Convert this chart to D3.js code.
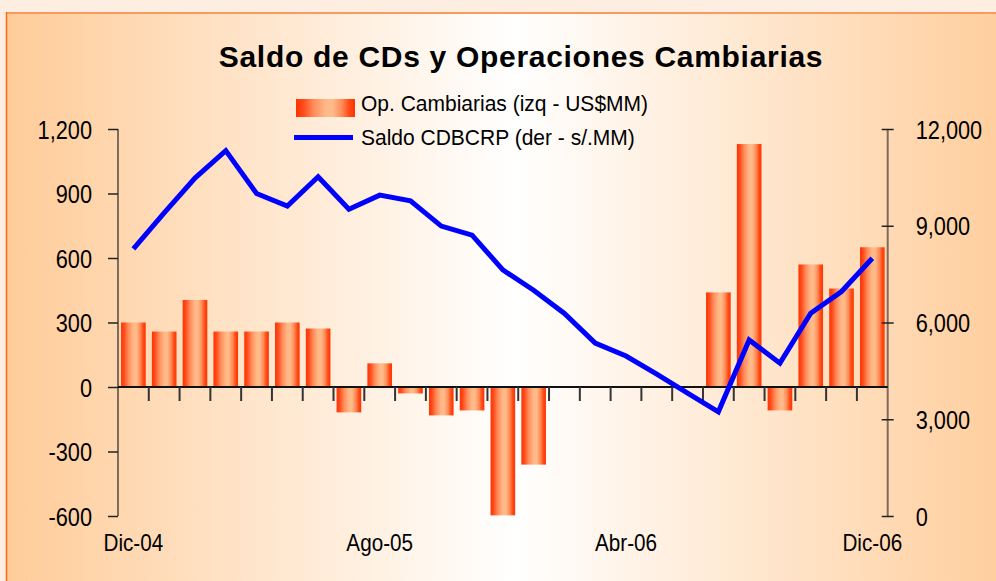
<!DOCTYPE html>
<html lang="es">
  <head>
    <meta charset="UTF-8" />
    <script src="https://d3js.org/d3.v7.min.js"></script>
    <style>
      body { margin: 0; background: #feeee2; }
      svg { display: block; }
      .lbl { font-family: "Liberation Sans", Arial, sans-serif; fill: #000; }
    </style>
    <title>Saldo de CDs y Operaciones Cambiarias</title>
  </head>
  <body>
    <div id="chart"></div>
    <script>
      // data
      var months = ["Dic-04", "Ene-05", "Feb-05", "Mar-05", "Abr-05", "May-05", "Jun-05",
        "Jul-05", "Ago-05", "Set-05", "Oct-05", "Nov-05", "Dic-05", "Ene-06", "Feb-06",
        "Mar-06", "Abr-06", "May-06", "Jun-06", "Jul-06", "Ago-06", "Set-06", "Oct-06",
        "Nov-06", "Dic-06"];
      // Op. Cambiarias (izq - US$MM)
      var opCambiarias = [300, 258, 405, 258, 258, 300, 272, -118, 110, -30, -132, -109,
        -597, -361, 0, 0, 0, 0, 0, 440, 1130, -109, 570, 458, 650];
      // Saldo CDBCRP (der - s/.MM)
      var saldoCD = [8280, 9400, 10480, 11330, 10000, 9610, 10520, 9510, 9950, 9770, 8990,
        8710, 7630, 7000, 6280, 5360, 4960, 4400, 3810, 3230, 5460, 4740, 6290, 6960, 7990];
      var leftTicks = [-600, -300, 0, 300, 600, 900, 1200];
      var rightTicks = [0, 3000, 6000, 9000, 12000];
      var xLabels = ["Dic-04", "Ago-05", "Abr-06", "Dic-06"];

      var W = 996, H = 581;
      var plot = { left: 118, right: 887.7, top: 129, bottom: 516 };
      var SX = 0.87; // the original font is a bit condensed

      var svg = d3.select("#chart").append("svg").attr("width", W).attr("height", H);
      var defs = svg.append("defs");

      // background gradient
      var bg = defs.append("linearGradient").attr("id", "bgGrad")
        .attr("x1", "0%").attr("x2", "100%").attr("y1", "0%").attr("y2", "0%");
      bg.append("stop").attr("offset", "0%").attr("stop-color", "#ffcc99");
      bg.append("stop").attr("offset", "50%").attr("stop-color", "#ffffff");
      bg.append("stop").attr("offset", "100%").attr("stop-color", "#ffcc99");

      // bar gradient
      var bar = defs.append("linearGradient").attr("id", "barGrad")
        .attr("x1", "0%").attr("x2", "100%").attr("y1", "0%").attr("y2", "0%");
      [[0, "#ff3300"], [0.12, "#ff4a1a"], [0.3, "#ff8c5a"], [0.5, "#ffb888"],
       [0.62, "#ffbb8a"], [0.78, "#ff8a55"], [0.9, "#ff4a15"], [1, "#ff3300"]]
        .forEach(function (s) {
          bar.append("stop").attr("offset", s[0]).attr("stop-color", s[1]);
        });

      svg.append("rect").attr("width", W).attr("height", H).attr("fill", "#feeee2");
      svg.append("rect").attr("x", 6).attr("y", 13).attr("width", W + 20).attr("height", H)
        .attr("fill", "url(#bgGrad)");
      svg.append("line").attr("x1", 6).attr("x2", W).attr("y1", 13).attr("y2", 13)
        .attr("stroke", "#f89b5e").attr("stroke-width", 2);
      svg.append("line").attr("x1", 6.5).attr("x2", 6.5).attr("y1", 12).attr("y2", H)
        .attr("stroke", "#ff6a10").attr("stroke-width", 1.5);

      // scales
      var x = d3.scaleBand().domain(months).range([plot.left, plot.right])
        .paddingInner(0.2).paddingOuter(0.1);
      var yL = d3.scaleLinear().domain([-600, 1200]).range([plot.bottom, plot.top]);
      var yR = d3.scaleLinear().domain([0, 12000]).range([plot.bottom, plot.top]);
      var step = x.step();
      var fmt = function (v) { return d3.format(",")(v).replace("\u2212", "-"); };

      // squeeze a text horizontally, keeping its anchor point
      function condense(sel, sx) {
        sel.each(function () {
          var t = d3.select(this);
          var tx = +t.attr("x") || 0;
          t.attr("x", tx / sx).attr("transform", "scale(" + sx + ",1)");
        });
      }

      // title
      svg.append("text").attr("x", 521).attr("y", 67).attr("text-anchor", "middle")
        .style("font-family", "'Liberation Sans', Arial, sans-serif")
        .style("font-weight", "bold").style("font-size", "30px")
        .style("letter-spacing", "0.7px")
        .text("Saldo de CDs y Operaciones Cambiarias");

      // bars
      svg.append("g").selectAll("rect")
        .data(months.map(function (m, i) { return { m: m, v: opCambiarias[i] }; })
          .filter(function (d) { return d.v !== 0; }))
        .join("rect")
        .attr("x", function (d) { return x(d.m); })
        .attr("width", x.bandwidth())
        .attr("y", function (d) { return yL(Math.max(0, d.v)); })
        .attr("height", function (d) { return Math.abs(yL(d.v) - yL(0)); })
        .attr("fill", "url(#barGrad)");

      // left axis
      var gL = svg.append("g").attr("transform", "translate(" + plot.left + ",0)");
      gL.call(d3.axisLeft(yL).tickValues(leftTicks).tickSize(10).tickPadding(16)
        .tickFormat(fmt));
      gL.select(".domain").attr("stroke", "#7f6a5c").attr("stroke-width", 2)
        .attr("d", "M0," + plot.top + "V" + plot.bottom);
      gL.selectAll(".tick line").attr("stroke", "#222").attr("stroke-width", 1.5);
      gL.selectAll(".tick text").attr("class", "lbl").style("font-size", "25px")
        .attr("dy", "0.36em").call(condense, SX);

      // right axis
      var gR = svg.append("g").attr("transform", "translate(" + plot.right + ",0)");
      gR.call(d3.axisRight(yR).tickValues(rightTicks).tickSize(6).tickPadding(22)
        .tickFormat(fmt));
      gR.select(".domain").attr("stroke", "#7f6a5c").attr("stroke-width", 2)
        .attr("d", "M0," + plot.top + "V" + plot.bottom);
      gR.selectAll(".tick line").attr("x1", -6).attr("stroke", "#222").attr("stroke-width", 1.5);
      gR.selectAll(".tick text").attr("class", "lbl").style("font-size", "25px")
        .attr("dy", "0.36em").call(condense, SX);

      // category axis at zero
      var gX = svg.append("g").attr("transform", "translate(0," + yL(0) + ")");
      gX.append("line").attr("x1", plot.left).attr("x2", plot.right)
        .attr("stroke", "#111").attr("stroke-width", 2);
      gX.selectAll(".xt").data(months.slice(1)).join("line").attr("class", "xt")
        .attr("x1", function (m) { return x(m) - (step - x.bandwidth()) / 2; })
        .attr("x2", function (m) { return x(m) - (step - x.bandwidth()) / 2; })
        .attr("y1", 0).attr("y2", 14)
        .attr("stroke", "#333").attr("stroke-width", 2);

      svg.append("g").selectAll("text").data(xLabels).join("text")
        .attr("class", "lbl")
        .attr("x", function (m) { return x(m) + x.bandwidth() / 2; })
        .attr("y", 551).attr("text-anchor", "middle").style("font-size", "23.5px")
        .text(function (m) { return m; })
        .call(condense, 0.88);

      // line
      var line = d3.line()
        .x(function (d, i) { return x(months[i]) + x.bandwidth() / 2; })
        .y(function (d) { return yR(d); });
      svg.append("path").datum(saldoCD).attr("d", line)
        .attr("fill", "none").attr("stroke", "#0000ff").attr("stroke-width", 5)
        .attr("stroke-linejoin", "miter");

      // legend
      var lg = svg.append("g");
      lg.append("rect").attr("x", 296).attr("y", 99).attr("width", 59).attr("height", 18)
        .attr("fill", "url(#barGrad)");
      lg.append("line").attr("x1", 294).attr("x2", 353).attr("y1", 137.5).attr("y2", 137.5)
        .attr("stroke", "#0000ff").attr("stroke-width", 5);
      lg.append("text").attr("class", "lbl").attr("x", 361).attr("y", 111)
        .style("font-size", "22px").text("Op. Cambiarias (izq - US$MM)")
        .call(condense, 0.955);
      lg.append("text").attr("class", "lbl").attr("x", 361).attr("y", 145)
        .style("font-size", "22px").text("Saldo CDBCRP (der - s/.MM)")
        .call(condense, 0.955);
    </script>
  </body>
</html>
